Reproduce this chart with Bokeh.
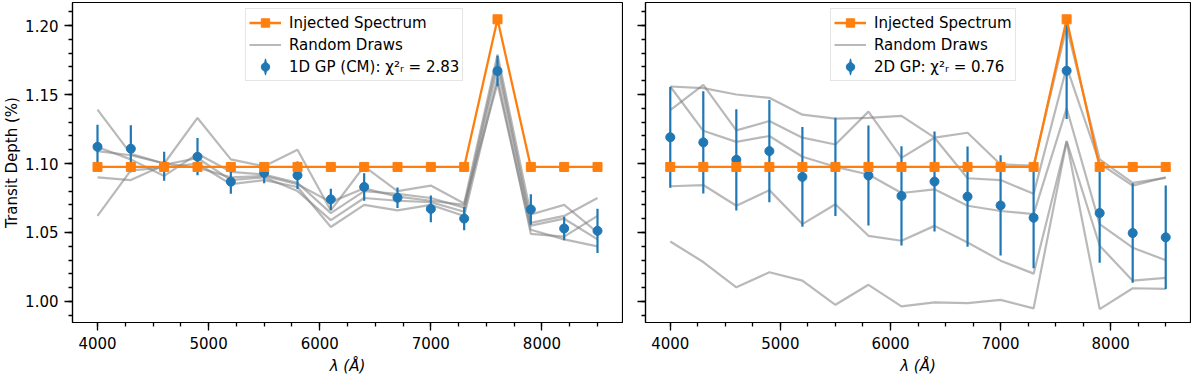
from bokeh.plotting import figure
from bokeh.layouts import row
from bokeh.models import (ColumnDataSource, Range1d, FixedTicker, Legend, LegendItem,
                          PrintfTickFormatter, CustomJSTickFormatter)
from bokeh.embed import file_html
from bokeh.resources import INLINE

# ---------------- data ----------------
wavelength = [4000, 4300, 4600, 4900, 5200, 5500, 5800, 6100, 6400, 6700, 7000, 7300, 7600, 7900, 8200, 8500]
injected = [1.0975, 1.0975, 1.0975, 1.0975, 1.0975, 1.0975, 1.0975, 1.0975, 1.0975, 1.0975, 1.0975, 1.0975, 1.2045, 1.0975, 1.0975, 1.0975]

gp1d_depth = [1.1121, 1.1107, 1.0980, 1.1049, 1.0868, 1.0932, 1.0915, 1.0740, 1.0830, 1.0752, 1.0671, 1.0601, 1.1670, 1.0667, 1.0529, 1.0512]
gp1d_err = [0.016, 0.017, 0.0105, 0.0135, 0.0088, 0.0075, 0.0100, 0.0077, 0.0100, 0.0074, 0.0097, 0.0084, 0.0110, 0.0110, 0.0085, 0.0160]

gp2d_depth = [1.1190, 1.1153, 1.1027, 1.1090, 1.0903, 1.0976, 1.0913, 1.0765, 1.0869, 1.0760, 1.0696, 1.0607, 1.1672, 1.0641, 1.0496, 1.0465]
gp2d_err = [0.0365, 0.0370, 0.0367, 0.0370, 0.0362, 0.0356, 0.0362, 0.0360, 0.0362, 0.0363, 0.0363, 0.0366, 0.0350, 0.0360, 0.0361, 0.0375]

draw1d_a = [1.139, 1.107, 1.100, 1.133, 1.103, 1.098, 1.110, 1.066, 1.098, 1.080, 1.084, 1.071, 1.179, 1.063, 1.070, 1.050]
draw1d_b = [1.112, 1.103, 1.091, 1.107, 1.094, 1.092, 1.086, 1.064, 1.080, 1.078, 1.075, 1.068, 1.175, 1.057, 1.062, 1.075]
draw1d_c = [1.090, 1.088, 1.099, 1.104, 1.088, 1.090, 1.080, 1.059, 1.075, 1.073, 1.072, 1.065, 1.170, 1.055, 1.060, 1.045]
draw1d_d = [1.062, 1.095, 1.097, 1.100, 1.085, 1.088, 1.083, 1.054, 1.070, 1.066, 1.070, 1.062, 1.162, 1.049, 1.047, 1.062]
draw1d_e = [1.109, 1.106, 1.100, 1.097, 1.090, 1.091, 1.085, 1.072, 1.082, 1.076, 1.073, 1.070, 1.158, 1.052, 1.045, 1.040]

draw2d_a = [1.1558, 1.1546, 1.1500, 1.1476, 1.1354, 1.1325, 1.1330, 1.1345, 1.1187, 1.1223, 1.0993, 1.0985, 1.1990, 1.1030, 1.0860, 1.0896]
draw2d_b = [1.1386, 1.1570, 1.1240, 1.1308, 1.1187, 1.1138, 1.1376, 1.1041, 1.1187, 1.0893, 1.0880, 1.0780, 1.1700, 1.1000, 1.0840, 1.0900]
draw2d_c = [1.1558, 1.1237, 1.1157, 1.1199, 1.1049, 1.0976, 1.0920, 1.0786, 1.0813, 1.0694, 1.0656, 1.0633, 1.1400, 1.0561, 1.0390, 1.0299]
draw2d_d = [1.0835, 1.0844, 1.0694, 1.0807, 1.0561, 1.0705, 1.0476, 1.0440, 1.0548, 1.0428, 1.0296, 1.0202, 1.1163, 1.0404, 1.0151, 1.0171]
draw2d_e = [1.0435, 1.0286, 1.0103, 1.0212, 1.0151, 0.9976, 1.0121, 0.9965, 0.9993, 0.9988, 1.0012, 0.9950, 1.1160, 0.9945, 1.0096, 1.0091]

x_major_ticks = [4000, 5000, 6000, 7000, 8000]
x_minor_ticks = [3750, 4000, 4250, 4500, 4750, 5000, 5250, 5500, 5750, 6000, 6250, 6500, 6750,
                 7000, 7250, 7500, 7750, 8000, 8250, 8500, 8750]
y_major_ticks = [1.00, 1.05, 1.10, 1.15, 1.20]
y_minor_ticks = [0.99, 1.00, 1.01, 1.02, 1.03, 1.04, 1.05, 1.06, 1.07, 1.08, 1.09, 1.10,
                 1.11, 1.12, 1.13, 1.14, 1.15, 1.16, 1.17, 1.18, 1.19, 1.20, 1.21]

legend_labels_left = ["Injected Spectrum", "Random Draws", "1D GP (CM): χ²ᵣ = 2.83"]
legend_labels_right = ["Injected Spectrum", "Random Draws", "2D GP: χ²ᵣ = 0.76"]

BLUE = "#1f77b4"
ORANGE = "#ff7f0e"
FONT = "DejaVu Sans"


def make_panel(depth, err, draws, labels, left_border, frame_w, show_ylab, legend_x):
    p = figure(frame_width=frame_w, frame_height=320,
               x_range=Range1d(3775, 8725), y_range=Range1d(0.98478, 1.21667),
               output_backend="svg", toolbar_location=None,
               min_border_left=left_border, min_border_right=1,
               min_border_top=2, min_border_bottom=54)
    p.grid.visible = False
    p.outline_line_color = "black"
    p.outline_line_width = 1.2
    p.outline_line_alpha = 1.0
    p.background_fill_color = "white"
    p.border_fill_color = "white"

    for ax in (p.xaxis[0], p.yaxis[0]):
        ax.axis_line_color = "black"
        ax.axis_line_width = 1.2
        ax.major_tick_line_color = "black"
        ax.minor_tick_line_color = "black"
        ax.major_tick_line_width = 1.3
        ax.minor_tick_line_width = 1.3
        ax.major_tick_out = 8
        ax.major_tick_in = 0
        ax.minor_tick_out = 4
        ax.minor_tick_in = 0
        ax.major_label_text_font = FONT
        ax.major_label_text_font_size = "15px"
        ax.major_label_text_color = "black"
        ax.axis_label_text_font = FONT
        ax.axis_label_text_color = "black"

    p.xaxis.ticker = FixedTicker(ticks=x_major_ticks, minor_ticks=x_minor_ticks)
    p.yaxis.ticker = FixedTicker(ticks=y_major_ticks, minor_ticks=y_minor_ticks)
    p.xaxis.major_label_standoff = 6
    p.xaxis.axis_label = "λ (Å)"
    p.xaxis.axis_label_text_font_size = "15px"
    p.xaxis.axis_label_text_font_style = "italic"
    p.xaxis.axis_label_standoff = 5

    if show_ylab:
        p.yaxis.formatter = PrintfTickFormatter(format="%.2f")
        p.yaxis.axis_label = "Transit Depth (%)"
        p.yaxis.axis_label_text_font_size = "15px"
        p.yaxis.axis_label_text_font_style = "normal"
        p.yaxis.axis_label_standoff = 1
        p.yaxis.major_label_standoff = 6
    else:
        p.yaxis.formatter = CustomJSTickFormatter(code="return '';")
        p.yaxis.major_label_standoff = 0

    # random draws
    draw_renderers = []
    for d in draws:
        r = p.line(wavelength, d, line_color="gray", line_alpha=0.55, line_width=2.2)
        draw_renderers.append(r)

    # error bars + points
    src = ColumnDataSource(dict(x=wavelength, y=depth,
                                lo=[v - e for v, e in zip(depth, err)],
                                hi=[v + e for v, e in zip(depth, err)]))
    # thin vertical key (hidden under the bars); gives the legend its vertical stroke
    key = p.ellipse(x="x", y="y", width=2.2, height=12, width_units="screen",
                    height_units="screen", source=src, fill_color=BLUE, line_color=None)
    p.segment(x0="x", y0="lo", x1="x", y1="hi", source=src, line_color=BLUE, line_width=2.2)
    pts = p.scatter("x", "y", source=src, marker="circle", size=9,
                    fill_color=BLUE, line_color=BLUE)

    # injected spectrum
    inj_line = p.line(wavelength, injected, line_color=ORANGE, line_width=2.3)
    inj_pts = p.scatter(wavelength, injected, marker="square", size=9,
                        fill_color=ORANGE, line_color=ORANGE)

    legend = Legend(items=[
        LegendItem(label=labels[0], renderers=[inj_line, inj_pts]),
        LegendItem(label=labels[1], renderers=[draw_renderers[0]]),
        LegendItem(label=labels[2], renderers=[key, pts]),
    ], location=(legend_x, 241))
    legend.label_text_font = FONT
    legend.label_text_font_size = "15px"
    legend.label_text_color = "black"
    legend.border_line_color = "#cccccc"
    legend.border_line_width = 1
    legend.background_fill_color = "white"
    legend.background_fill_alpha = 0.85
    legend.padding = 3
    legend.spacing = 1
    legend.margin = 0
    legend.glyph_width = 32
    legend.glyph_height = 21
    legend.label_height = 21
    legend.label_standoff = 8
    p.add_layout(legend)
    return p


p1 = make_panel(gp1d_depth, gp1d_err, [draw1d_a, draw1d_b, draw1d_c, draw1d_d, draw1d_e],
                legend_labels_left, 65, 550, True, 173)
p2 = make_panel(gp2d_depth, gp2d_err, [draw2d_a, draw2d_b, draw2d_c, draw2d_d, draw2d_e],
                legend_labels_right, 22, 545, False, 185)

layout = row(p1, p2)
open("out.html", "w").write(file_html(layout, INLINE))
